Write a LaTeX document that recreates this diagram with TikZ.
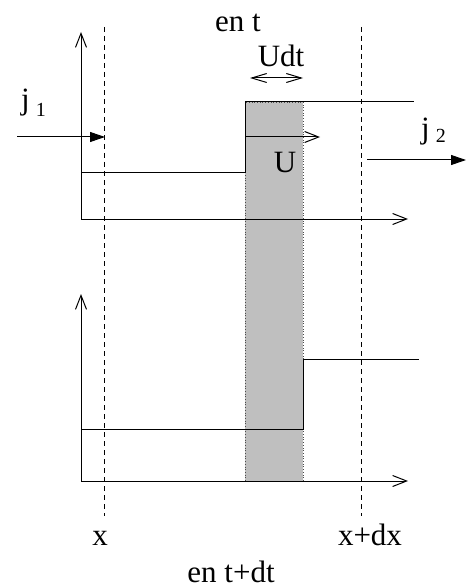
\documentclass[tikz,border=0pt]{standalone}
\usepackage{fontspec}
\setmainfont{Liberation Serif}
\usetikzlibrary{arrows.meta}
\begin{document}
\begin{tikzpicture}[x=1pt,y=-1pt,
  lbl/.style={font=\fontsize{31}{36}\selectfont, inner sep=0pt, anchor=base},
  curve/.style={line width=1pt, line join=miter},
  axis/.style={line width=1pt, -{Straight Barb[length=14pt,width=11pt]}},
  flux/.style={line width=1pt, -{Triangle[length=15pt,width=10pt]}},
  guide/.style={line width=0.9pt, dash pattern=on 5pt off 4pt},
  band/.style={fill=gray!50, draw=black!70, line width=0.7pt, dotted},
  ]
\useasboundingbox (0,0) rectangle (474,588);
\fill[white] (0,0) rectangle (474,588);
% coordinates
\coordinate (O1) at (81,219);
\coordinate (Y1) at (81,32);
\coordinate (X1) at (408,219);
\coordinate (O2) at (81,481);
\coordinate (Y2) at (81,294);
\coordinate (X2) at (408,481);
\coordinate (BandA) at (245,102);
\coordinate (BandB) at (303,481);
% shaded band
\draw[band] (BandA) rectangle (BandB);
% dashed guides
\coordinate (Gx1) at (104.5,27);
\coordinate (Gx2) at (104.5,516);
\coordinate (Gd1) at (361,27);
\coordinate (Gd2) at (361,516);
\draw[guide] (Gx1) -- (Gx2);
\draw[guide] (Gd1) -- (Gd2);
% axes
\draw[axis] (O1) -- (Y1);
\draw[axis] (O1) -- (X1);
\draw[axis] (O2) -- (Y2);
\draw[axis] (O2) -- (X2);
% top profile
\coordinate (T1) at (81,172);
\coordinate (T2) at (245,172);
\coordinate (T3) at (245,102);
\coordinate (T4) at (414,102);
\draw[curve] (T1) -- (T2) -- (T3) -- (T4);
% bottom profile
\coordinate (B1) at (81,429);
\coordinate (B2) at (303,429);
\coordinate (B3) at (303,359);
\coordinate (B4) at (419,359);
\draw[curve] (B1) -- (B2) -- (B3) -- (B4);
% velocity arrow
\coordinate (Ua) at (245,137);
\coordinate (Ub) at (320,137);
\draw[axis] (Ua) -- (Ub);
% Udt double arrow
\coordinate (Da) at (250,78);
\coordinate (Db) at (303,78);
\draw[line width=1pt, {Straight Barb[length=15pt,width=9pt]}-{Straight Barb[length=15pt,width=9pt]}] (Da) -- (Db);
% fluxes
\coordinate (J1a) at (17,137);
\coordinate (J1b) at (105,137);
\draw[flux] (J1a) -- (J1b);
\coordinate (J2a) at (367,160);
\coordinate (J2b) at (466,160);
\draw[flux] (J2a) -- (J2b);
% labels
\node[lbl] (ent) at (238,32) {en t};
\node[lbl] (udt) at (281,67) {Udt};
\node[lbl] (u) at (285,172) {U};
\node[lbl, anchor=base west] (j1) at (21,110) {j\hspace{6pt}\raisebox{-7pt}{\fontsize{20}{20}\selectfont 1}};
\node[lbl, anchor=base west] (j2) at (421,139) {j\hspace{6pt}\raisebox{-4pt}{\fontsize{20}{20}\selectfont 2}};
\node[lbl] (lx) at (100,545) {x};
\node[lbl] (ldx) at (370,545) {x+dx};
\node[lbl] (ent2) at (231,582) {en t+dt};
\end{tikzpicture}
\end{document}
